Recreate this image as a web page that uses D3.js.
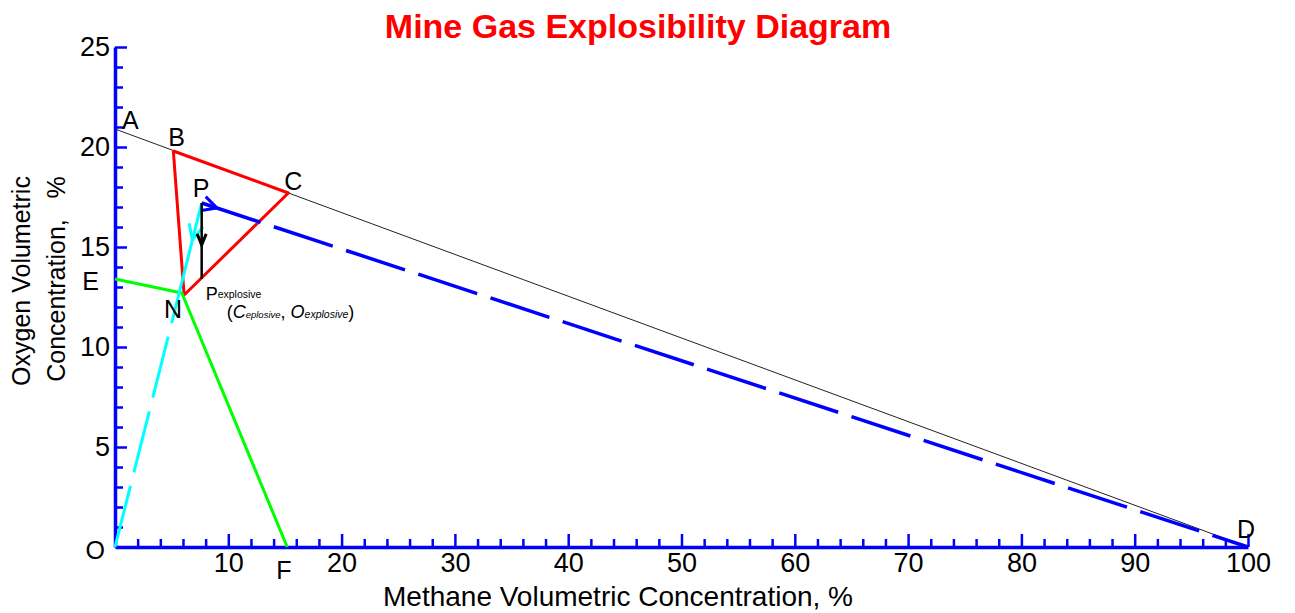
<!DOCTYPE html>
<html lang="en">
<head>
<meta charset="UTF-8">
<title>Mine Gas Explosibility Diagram</title>
<script src="https://d3js.org/d3.v7.min.js"></script>
<style>
  body { margin: 0; background: #fff; }
  svg text { font-family: "Liberation Sans", Arial, sans-serif; fill: #000; }
  .axis path, .axis line { stroke: #0000ff; }
  .axis path { stroke-width: 3.5; }
  .axis line { stroke-width: 2.5; }
  .axis text { font-size: 27px; font-family: "Liberation Sans", Arial, sans-serif; }
  .lbl { font-size: 25px; }
</style>
</head>
<body>
<svg id="chart" width="1295" height="613"></svg>
<script>
// axis ticks
const xTicks = [10, 20, 30, 40, 50, 60, 70, 80, 90, 100];
const yTicks = [5, 10, 15, 20, 25];

// lines, as [methane %, oxygen %]
const airLine = [[0, 20.9], [100, 0]];                          // A -> D
const explosiveTriangle = [[5.15, 19.8], [15.3, 17.7], [6.1, 12.6], [5.15, 19.8]]; // B C N
const noseLine = [[0, 13.4], [5.9, 12.7], [15.2, 0]];           // E -> N -> F
const cyanDashed = [[0, 0], [5.0, 11.2]];
const cyanSolid = [[5.0, 11.2], [7.65, 17.2]];                   // up to P
const dropLine = [[7.65, 17.2], [7.65, 13.4]];                   // P -> P explosive
const dilutionLine = [[7.65, 17.2], [100, 0]];                   // P -> D

// arrow tips sitting on those lines
const cyanArrowTip = [6.83, 15.35];
const dropArrowTip = [7.65, 15.1];
const dilutionArrowTip = [9.0, 16.95];

// named points
const labelNames = ["A", "B", "C", "D", "E", "F", "N", "O", "P"];
const labelPoints = [[0, 20.9], [5.15, 19.8], [15.3, 17.7], [100, 0], [0, 13.4], [15.2, 0], [6.1, 12.6], [0, 0], [7.65, 17.2]];
const pExplosive = [7.65, 13.4];

const svg = d3.select("#chart");

const x = d3.scaleLinear().domain([0, 100]).range([115, 1248]);
const y = d3.scaleLinear().domain([0, 25]).range([547, 47]);

// title
svg.append("text")
    .attr("x", 638).attr("y", 38)
    .attr("text-anchor", "middle")
    .style("font-size", "34px").style("font-weight", "bold")
    .style("fill", "#ff0000")
    .text("Mine Gas Explosibility Diagram");

// minor ticks
svg.append("g").attr("class", "axis minor")
    .attr("transform", "translate(0,547)")
    .call(d3.axisBottom(x).tickValues(d3.range(2, 100, 2).filter(d => d % 10 !== 0)).tickSize(-8).tickFormat(""))
    .call(g => g.select(".domain").remove());
svg.append("g").attr("class", "axis minor")
    .attr("transform", "translate(115,0)")
    .call(d3.axisLeft(y).tickValues(d3.range(1, 25).filter(d => d % 5 !== 0)).tickSize(-8).tickFormat(""))
    .call(g => g.select(".domain").remove());

// main axes
svg.append("g").attr("class", "axis")
    .attr("transform", "translate(0,547)")
    .call(d3.axisBottom(x).tickValues(xTicks).tickSize(-13).tickSizeOuter(0).tickPadding(6));
svg.append("g").attr("class", "axis")
    .attr("transform", "translate(115,0)")
    .call(d3.axisLeft(y).tickValues(yTicks).tickSize(-12).tickSizeOuter(0).tickPadding(5));

// axis titles
svg.append("text")
    .attr("x", 618).attr("y", 606)
    .attr("text-anchor", "middle")
    .style("font-size", "28px")
    .text("Methane Volumetric Concentration, %");

svg.append("text")
    .attr("transform", "translate(30,281) rotate(-90)")
    .attr("text-anchor", "middle")
    .style("font-size", "25px")
    .text("Oxygen Volumetric");
svg.append("text")
    .attr("transform", "translate(65,279) rotate(-90)")
    .attr("text-anchor", "middle")
    .style("font-size", "25px")
    .text("Concentration,\u00a0\u00a0\u00a0%");

const line = d3.line().x(d => x(d[0])).y(d => y(d[1]));

function draw(data, color, width, dash) {
    const p = svg.append("path")
        .attr("d", line(data))
        .attr("fill", "none")
        .attr("stroke", color)
        .attr("stroke-width", width)
        .attr("stroke-linejoin", "round");
    if (dash) p.attr("stroke-dasharray", dash);
    return p;
}

// open arrowhead at tip, pointing along from -> to
function arrow(tip, from, to, color, width, len, ang) {
    const dx = x(to[0]) - x(from[0]), dy = y(to[1]) - y(from[1]);
    const n = Math.hypot(dx, dy);
    const bx = -dx / n, by = -dy / n;
    const tx = x(tip[0]), ty = y(tip[1]);
    const a = ang * Math.PI / 180;
    const arm = s => [tx + len * (bx * Math.cos(s * a) - by * Math.sin(s * a)),
                      ty + len * (bx * Math.sin(s * a) + by * Math.cos(s * a))];
    const p1 = arm(1), p2 = arm(-1);
    svg.append("path")
        .attr("d", `M${p1[0]},${p1[1]}L${tx},${ty}L${p2[0]},${p2[1]}`)
        .attr("fill", "none")
        .attr("stroke", color)
        .attr("stroke-width", width)
        .attr("stroke-linejoin", "miter");
}

draw(airLine, "#222", 1);
draw(explosiveTriangle, "#ff0000", 3);
draw(noseLine, "#00ff00", 3);
draw(dilutionLine, "#0000ff", 3.5, "62,14");
arrow(dilutionArrowTip, dilutionLine[0], dilutionLine[1], "#0000ff", 3, 16, 27);
draw(cyanDashed, "#00ffff", 3, "63,14");
draw(cyanSolid, "#00ffff", 3);
arrow(cyanArrowTip, cyanSolid[1], cyanSolid[0], "#00ffff", 3, 17, 25);
draw(dropLine, "#000", 2.5);
arrow(dropArrowTip, dropLine[0], dropLine[1], "#000", 3, 12, 22);

// point labels (pixel nudges from each point)
const nudge = {
    A: [7, 0, "start"], B: [-5, -5, "start"], C: [-4, -3, "start"], D: [-11, -9, "start"],
    E: [-16, 11, "end"], F: [-11, 32, "start"], N: [-20, 23, "start"], O: [-10, 12, "end"],
    P: [-9, -6, "start"]
};
labelNames.forEach((name, i) => {
    const pt = labelPoints[i];
    svg.append("text").attr("class", "lbl")
        .attr("x", x(pt[0]) + nudge[name][0])
        .attr("y", y(pt[1]) + nudge[name][1])
        .attr("text-anchor", nudge[name][2])
        .text(name);
});

// P explosive label
const pe = svg.append("text")
    .attr("x", x(pExplosive[0]) + 4)
    .attr("y", y(pExplosive[1]) + 21)
    .style("font-size", "18px");
pe.append("tspan").text("P");
pe.append("tspan").attr("dy", -2).style("font-size", "10.5px").text("explosive");

const pc = svg.append("text")
    .attr("x", x(pExplosive[0]) + 25)
    .attr("y", y(pExplosive[1]) + 39)
    .style("font-size", "18px");
pc.append("tspan").text("(");
pc.append("tspan").style("font-style", "italic").text("C");
pc.append("tspan").style("font-style", "italic").style("font-size", "9.5px").text("eplosive");
pc.append("tspan").text(", ");
pc.append("tspan").style("font-style", "italic").text("O");
pc.append("tspan").style("font-style", "italic").style("font-size", "10.5px").text("explosive");
pc.append("tspan").text(")");
</script>
</body>
</html>
